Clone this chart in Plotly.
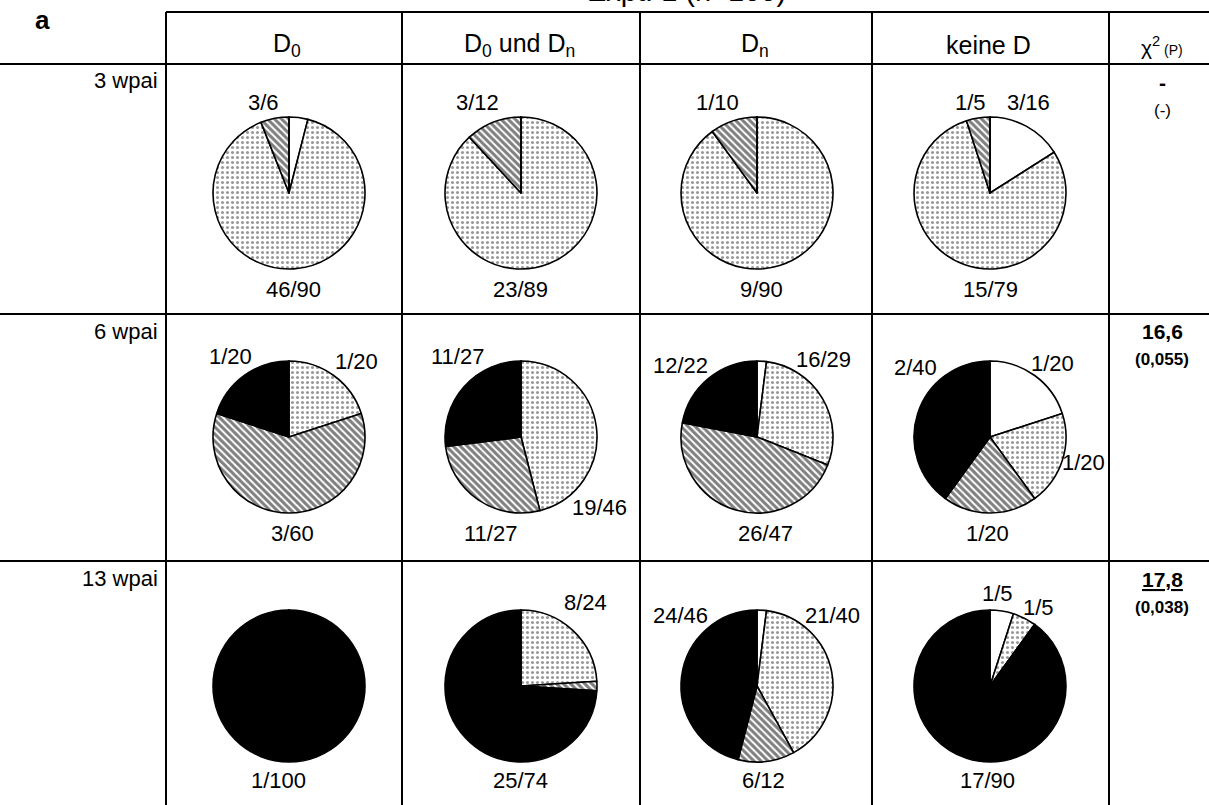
import plotly.graph_objects as go

# ---------------------------------------------------------------- data
slice_classes = ["weiß", "gepunktet", "schraffiert", "schwarz"]
row_labels = ["3 wpai", "6 wpai", "13 wpai"]
col_labels = ["D<sub>0</sub>", "D<sub>0</sub> und D<sub>n</sub>", "D<sub>n</sub>", "keine D"]

# slice sizes per cell (order: weiß, gepunktet, schraffiert, schwarz)
values_3wpai = [[4, 90, 6, 0], [0, 89, 12, 0], [0, 90, 10, 0], [16, 79, 5, 0]]
values_6wpai = [[0, 20, 60, 20], [0, 46, 27, 27], [2, 29, 47, 22], [20, 20, 20, 40]]
values_13wpai = [[0, 0, 0, 100], [0, 24, 2, 74], [2, 40, 12, 46], [5, 5, 0, 90]]

# fraction labels per slice (None = unlabelled)
labels_3wpai = [[None, "46/90", "3/6", None], [None, "23/89", "3/12", None],
                [None, "9/90", "1/10", None], ["3/16", "15/79", "1/5", None]]
labels_6wpai = [[None, "1/20", "3/60", "1/20"], [None, "19/46", "11/27", "11/27"],
                [None, "16/29", "26/47", "12/22"], ["1/20", "1/20", "1/20", "2/40"]]
labels_13wpai = [[None, None, None, "1/100"], [None, "8/24", None, "25/74"],
                 [None, "21/40", "6/12", "24/46"], ["1/5", "1/5", None, "17/90"]]

chi2_values = ["<b>-</b>", "<b>16,6</b>", "<b><u>17,8</u></b>"]
p_values = ["(-)", "<b>(0,055)</b>", "<b>(0,038)</b>"]

all_values = [values_3wpai, values_6wpai, values_13wpai]
all_labels = [labels_3wpai, labels_6wpai, labels_13wpai]

# ---------------------------------------------------------------- layout geometry (pixels)
W, H = 1209, 805
col_x = [289, 521, 757, 990]          # pie centres
row_y = [193, 437, 686]
pie_r = 76
col_edges = [166, 402, 640, 872, 1109]
row_edges = [64, 314, 561]
top_edge = 12
chi_x = 1162

# label offsets from pie centre, per cell and slice
label_offsets = [
    [[None, (4, 96), (-26, -90), None], [None, (-1, 96), (-44, -90), None],
     [None, (5, 96), (-40, -90), None], [(38, -90), (0, 96), (-20, -90), None]],
    [[None, (67, -76), (3, 96), (-59, -81)], [None, (78, 70), (-31, 96), (-64, -81)],
     [None, (66, -77), (8, 96), (-77, -72)], [(62, -74), (93, 25), (-3, 96), (-75, -69)]],
    [[None, None, None, (-11, 94)], [None, (64, -84), None, (-1, 94)],
     [None, (76, -71), (6, 94), (-77, -71)], [(7, -93), (48, -79), None, (-3, 94)]],
]


def px(x):
    return x / W


def py(y):
    return 1 - y / H


FONT = "Liberation Sans, Arial, sans-serif"

fig = go.Figure()

# slice fills
slice_colors = ["white", "white", "white", "black"]
pattern_shapes = ["", ".", "\\", ""]
pattern_fg = ["white", "#333333", "#000000", "black"]
pattern_size = [6, 5, 5, 6]
pattern_solidity = [0.2, 0.3, 0.6, 0.2]

for r, (vals_row, labs_row) in enumerate(zip(all_values, all_labels)):
    for c, vals in enumerate(vals_row):
        cx, cy = col_x[c], row_y[r]
        fig.add_trace(go.Pie(
            labels=slice_classes,
            values=vals,
            sort=False,
            direction="clockwise",
            rotation=0,
            textinfo="none",
            hoverinfo="label+value",
            showlegend=False,
            marker=dict(
                colors=slice_colors,
                line=dict(color="black", width=1.6),
                pattern=dict(shape=pattern_shapes, fgcolor=pattern_fg,
                             size=pattern_size, solidity=pattern_solidity,
                             fillmode="overlay"),
            ),
            domain=dict(x=[px(cx - pie_r), px(cx + pie_r)],
                        y=[py(cy + pie_r), py(cy - pie_r)]),
        ))
        for s, txt in enumerate(labs_row[c]):
            if txt is None:
                continue
            dx, dy = label_offsets[r][c][s]
            fig.add_annotation(x=px(cx + dx), y=py(cy + dy), text=txt,
                               showarrow=False, xanchor="center", yanchor="middle",
                               font=dict(family=FONT, size=22, color="black"))

annotations = []
# column headers
for c, txt in enumerate(col_labels):
    annotations.append(dict(x=px(col_x[c] - 2), y=py(45), text=txt,
                            font=dict(family=FONT, size=25, color="black")))
annotations.append(dict(x=px(chi_x), y=py(46),
                        text="χ<sup>2</sup><span style='font-size:14px'> (P)</span>",
                        font=dict(family=FONT, size=21, color="black")))
# row headers
for r, txt in enumerate(row_labels):
    annotations.append(dict(x=px(160), y=py(row_edges[r] + 17), text=txt, xanchor="right",
                            font=dict(family=FONT, size=22, color="black")))
# chi-square column
for r in range(3):
    annotations.append(dict(x=px(chi_x), y=py(row_edges[r] + 18), text=chi2_values[r],
                            font=dict(family=FONT, size=21, color="black")))
    annotations.append(dict(x=px(chi_x), y=py(row_edges[r] + 46), text=p_values[r],
                            font=dict(family=FONT, size=17, color="black")))
# panel letter and title
annotations.append(dict(x=px(42), y=py(20), text="<b>a</b>",
                        font=dict(family=FONT, size=26, color="black")))
annotations.append(dict(x=px(686), y=py(-9), text="Expt. 1 (n=100)",
                        font=dict(family=FONT, size=29, color="black")))
for a in annotations:
    a.setdefault("xanchor", "center")
    fig.add_annotation(showarrow=False, yanchor="middle", xref="paper", yref="paper", **a)

# table rules
line = dict(color="black", width=2)
shapes = [dict(type="line", x0=px(col_edges[0]), x1=1, y0=py(top_edge), y1=py(top_edge), line=line)]
for y in row_edges:
    shapes.append(dict(type="line", x0=0, x1=1, y0=py(y), y1=py(y), line=line))
for x in col_edges:
    shapes.append(dict(type="line", x0=px(x), x1=px(x), y0=py(top_edge), y1=0, line=line))
for s in shapes:
    fig.add_shape(xref="paper", yref="paper", **s)

fig.update_layout(
    width=W, height=H,
    margin=dict(l=0, r=0, t=0, b=0),
    paper_bgcolor="white", plot_bgcolor="white",
    font=dict(family=FONT, color="black"),
)

fig.write_html("out.html")
